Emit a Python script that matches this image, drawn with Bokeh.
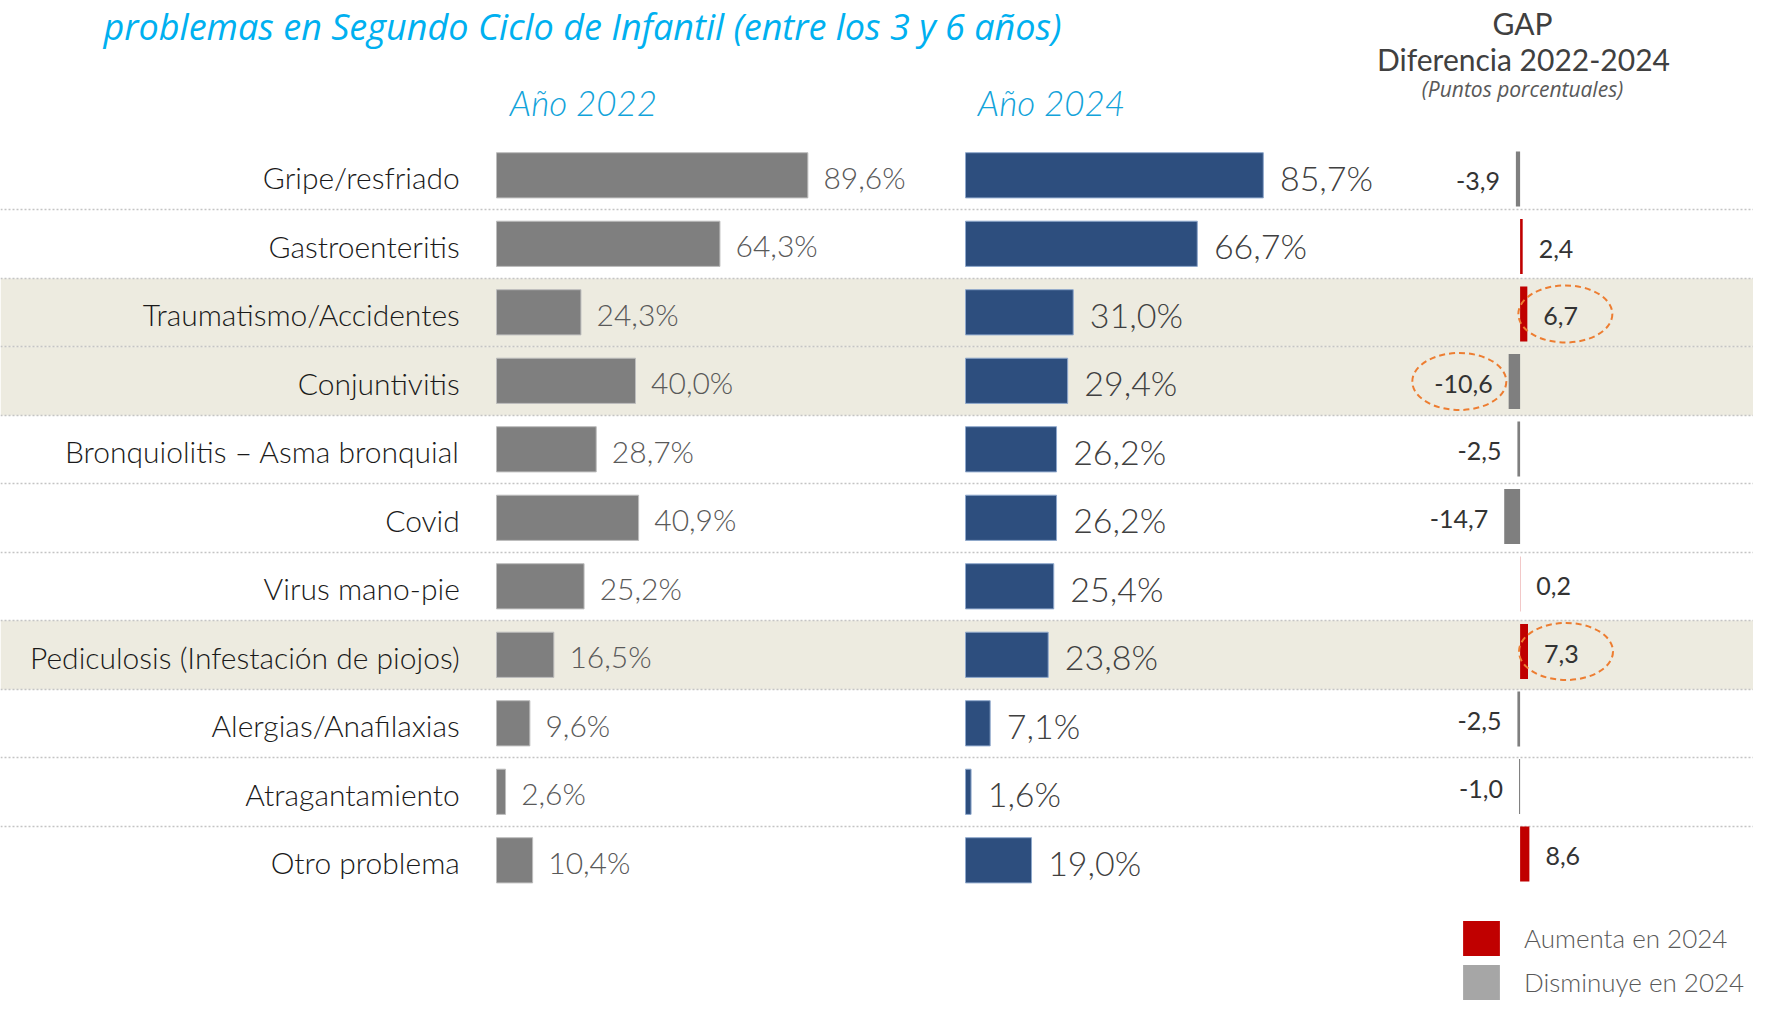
from bokeh.plotting import figure
from bokeh.models import ColumnDataSource, Range1d, Label, Legend, LegendItem
from bokeh.core.properties import value
from bokeh.embed import file_html
from bokeh.resources import INLINE

# ---------------- data ----------------
categories = [
    "Gripe/resfriado",
    "Gastroenteritis",
    "Traumatismo/Accidentes",
    "Conjuntivitis",
    "Bronquiolitis – Asma bronquial",
    "Covid",
    "Virus mano-pie",
    "Pediculosis (Infestación de piojos)",
    "Alergias/Anafilaxias",
    "Atragantamiento",
    "Otro problema",
]
year2022 = [89.6, 64.3, 24.3, 40.0, 28.7, 40.9, 25.2, 16.5, 9.6, 2.6, 10.4]
year2024 = [85.7, 66.7, 31.0, 29.4, 26.2, 26.2, 25.4, 23.8, 7.1, 1.6, 19.0]
gap_pp = [-3.9, 2.4, 6.7, -10.6, -2.5, -14.7, 0.2, 7.3, -2.5, -1.0, 8.6]
highlighted = ["Traumatismo/Accidentes", "Conjuntivitis", "Pediculosis (Infestación de piojos)"]

title_text = "problemas en Segundo Ciclo de Infantil (entre los 3 y 6 años)"
header_2022 = "Año 2022"
header_2024 = "Año 2024"
gap_headers = ["GAP", "Diferencia 2022-2024", "(Puntos porcentuales)"]
legend_labels = ["Aumenta en 2024", "Disminuye en 2024"]

# ---------------- layout (pixels) ----------------
W, H = 1753, 1002
ROW_PITCH = 68.5
ROW1_Y = 174.8
GAP_PITCH = 67.5
GAP_ROW1_Y = 178.5
PX_PCT = 3.475
ZERO_2022 = 496.0
ZERO_2024 = 965.0
PX_GAP = 1.08
ZERO_GAP = 1519.6
BL = 0.39  # baseline correction (fraction of font size)

FONT = "Lato"
FONT_LIGHT = "'Lato Light', Lato"
FONT_TITLE = "Open Sans"

C_2022 = "#7F7F7F"
C_2024 = "#2D4E7E"
C_UP = "#C00000"
C_DOWN = "#7F7F7F"
C_SHADE = "#EDEBE0"
C_CYAN = "#00B0F0"


def fmt(v, pct=True):
    s = f"{v:.1f}".replace(".", ",")
    return s + "%" if pct else s


def xr(zero_px, px_per_unit):
    return Range1d(start=-zero_px / px_per_unit, end=(W - zero_px) / px_per_unit)


n = len(categories)
ypos = [n - 1 - i for i in range(n)]

y_end = (n - 1) + ROW1_Y / ROW_PITCH
gy_end = (n - 1) + GAP_ROW1_Y / GAP_PITCH

p = figure(
    width=W, height=H,
    x_range=xr(ZERO_2022, PX_PCT),
    y_range=Range1d(start=y_end - H / ROW_PITCH, end=y_end),
    output_backend="svg", toolbar_location=None, min_border=0,
    x_axis_location=None, y_axis_location=None, outline_line_color=None,
)
p.extra_x_ranges = {"x2024": xr(ZERO_2024, PX_PCT), "gap": xr(ZERO_GAP, PX_GAP)}
p.extra_y_ranges = {"gapy": Range1d(start=gy_end - H / GAP_PITCH, end=gy_end)}
p.grid.visible = False
p.background_fill_color = "white"
p.border_fill_color = "white"

labgap = [fmt(g, pct=False) for g in gap_pp]
src = ColumnDataSource(dict(
    cat=categories, y=ypos, v22=year2022, v24=year2024, gap=gap_pp,
    lab22=[fmt(v) for v in year2022],
    lab24=[fmt(v) for v in year2024],
    labgap=labgap,
    gcolor=[C_UP if g > 0 else C_DOWN for g in gap_pp],
    galign=["left" if g > 0 else "right" for g in gap_pp],
    goff=[16 if g > 0 else -16 for g in gap_pp],
))

# highlighted bands
hl_y = [ypos[categories.index(c)] for c in highlighted]
p.hstrip(y0=[y - 0.5 for y in hl_y], y1=[y + 0.5 for y in hl_y],
         fill_color=C_SHADE, line_color=None)

# dotted separators
p.hspan(y=[y + 0.5 for y in ypos if y < n - 1], line_color="#C4C4C4",
        line_width=1.5, line_dash="2 2")

# bars
p.hbar(y="y", left=0, right="v22", height=0.66, fill_color=C_2022,
       line_color="#BDBDBD", line_width=1, source=src)
p.hbar(y="y", left=0, right="v24", height=0.66, fill_color=C_2024,
       line_color="#8FA8CC", line_width=1, source=src, x_range_name="x2024")
p.hbar(y="y", left=0, right="gap", height=0.815, fill_color="gcolor",
       line_color=None, source=src, x_range_name="gap", y_range_name="gapy")


def txt(**kw):
    size = kw.pop("size")
    base = kw.pop("base")
    font = kw.pop("font")
    p.text(y_offset=base - BL * size, text_baseline="alphabetic",
           text_font=value(font), text_font_size=f"{size}px", source=src, **kw)


txt(x=0, y="y", text="cat", x_offset=-36.7, base=13.5, size=30, font=FONT_LIGHT,
    text_align="right", text_color="#1A1A1A")
txt(x="v22", y="y", text="lab22", x_offset=15.6, base=13.3, size=30, font=FONT_LIGHT,
    text_align="left", text_color="#595959")
txt(x="v24", y="y", text="lab24", x_offset=16.6, base=15.2, size=34, font=FONT_LIGHT,
    text_align="left", text_color="#404040", x_range_name="x2024")
txt(x="gap", y="y", text="labgap", x_offset="goff", base=12.0, size=25, font=FONT,
    text_align="galign", text_color="#333333", x_range_name="gap", y_range_name="gapy")

# dashed ellipses around highlighted gap labels
ex, ey = [], []
for c in highlighted:
    i = categories.index(c)
    g = gap_pp[i]
    sgn = 1 if g > 0 else -1
    ex.append(g + sgn * (21 + 5.67 * len(labgap[i])) / PX_GAP)
    ey.append(ypos[i])
p.ellipse(x=ex, y=ey, width=94, height=57, width_units="screen", height_units="screen",
          fill_alpha=0, line_color="#ED7D31", line_width=2, line_dash="6 4",
          x_range_name="gap", y_range_name="gapy")


# headers (sx, sy = picture pixels of text anchor / baseline)
def lab(text, sx, sy, size, color, font, style="normal", align="left"):
    p.add_layout(Label(x=sx, y=H - (sy - BL * size), x_units="screen", y_units="screen",
                       text=text, text_font=font, text_font_size=f"{size}px", text_color=color,
                       text_font_style=style, text_align=align, text_baseline="alphabetic"))


lab(title_text, 103, 40, 36, C_CYAN, FONT_TITLE, "italic", "left")
lab(header_2022, 583, 115, 35, "#12A3DA", FONT_LIGHT, "italic", "center")
lab(header_2024, 1051, 115, 35, "#12A3DA", FONT_LIGHT, "italic", "center")
lab(gap_headers[0], 1522, 34, 30, "#404040", FONT, "normal", "center")
lab(gap_headers[1], 1523, 70, 30, "#404040", FONT, "normal", "center")
lab(gap_headers[2], 1522, 97, 21, "#595959", FONT_TITLE, "italic", "center")

# legend (dummy renderers carry only the legend colours)
nan = float("nan")
r_up = p.quad(left=[nan], right=[nan], top=[nan], bottom=[nan], fill_color=C_UP, line_color=None)
r_dn = p.quad(left=[nan], right=[nan], top=[nan], bottom=[nan], fill_color="#A6A6A6", line_color=None)
legend = Legend(
    items=[LegendItem(label=legend_labels[0], renderers=[r_up]),
           LegendItem(label=legend_labels[1], renderers=[r_dn])],
    location=(1458, -2), glyph_width=46, glyph_height=44, label_height=44,
    spacing=0, padding=0, margin=0, label_standoff=20,
    label_text_font=FONT_LIGHT, label_text_font_size="26px", label_text_color="#595959",
    background_fill_alpha=0, border_line_color=None,
)
p.add_layout(legend)

open("out.html", "w").write(file_html(p, INLINE))
